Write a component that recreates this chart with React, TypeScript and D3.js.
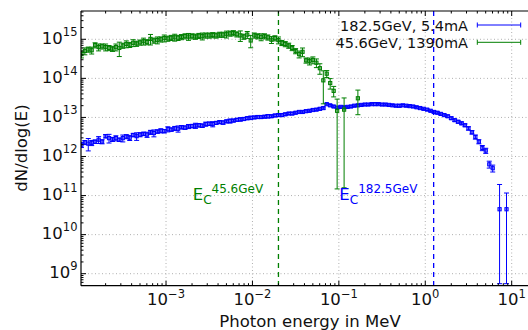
import React from "react";
import * as d3 from "d3";

// ---- data ----
const binMantissa = [1.05, 1.15, 1.26, 1.38, 1.51, 1.66, 1.82, 2.0, 2.19, 2.4, 2.63, 2.88, 3.16, 3.47, 3.8, 4.17, 4.57, 5.01, 5.5, 6.03, 6.61, 7.24, 7.94, 8.71, 9.55];
const binDecades = [1e-4, 1e-3, 1e-2, 1e-1, 1];

// log10(dN/dlog(E)), 182.5 GeV
const blueLog = [
  12.30, 12.36, 12.33, 12.35, 12.38, 12.43, 12.38, 12.52, 12.47, 12.44,
  12.47, 12.43, 12.47, 12.51, 12.48, 12.55, 12.52, 12.56, 12.58, 12.56,
  12.62, 12.60, 12.64, 12.66, 12.65, 12.70, 12.69, 12.72, 12.71, 12.75,
  12.74, 12.77, 12.78, 12.79, 12.80, 12.79, 12.83, 12.84, 12.83, 12.86,
  12.88, 12.87, 12.90, 12.91, 12.92, 12.94, 12.95, 12.96, 12.98, 12.99,
  13.00, 13.01, 13.01, 13.02, 13.03, 13.03, 13.05, 13.06, 13.06, 13.08,
  13.10, 13.10, 13.12, 13.14, 13.14, 13.16, 13.17, 13.19, 13.20, 13.22,
  13.24, 13.34, 13.31, 13.28, 13.25, 13.27, 13.26, 13.27, 13.28, 13.30,
  13.31, 13.32, 13.33, 13.33, 13.34, 13.34, 13.34, 13.33, 13.33, 13.32,
  13.31, 13.30, 13.30, 13.31, 13.30, 13.29, 13.28, 13.26, 13.24, 13.22,
  13.20, 13.17, 13.14, 13.12, 13.09, 13.06, 13.03, 12.98, 12.93, 12.89,
  12.85, 12.80, 12.72, 12.62, 12.50, 12.38, 12.22, 12.15, 11.80, 11.70,
  null, 10.65, null, 10.65,
];
// relative errors, 182.5 GeV
const blueErr = [
  0.15, 0.12, 0.35, 0.15, 0.1, 0.2, 0.12, 0.1, 0.25, 0.12,
  0.15, 0.1, 0.2, 0.12, 0.15, 0.1, 0.22, 0.12, 0.1, 0.15,
  0.12, 0.2, 0.1, 0.12, 0.1, 0.15, 0.1, 0.12, 0.18, 0.1,
  0.1, 0.12, 0.1, 0.15, 0.1, 0.1, 0.12, 0.1, 0.15, 0.08,
  0.08, 0.1, 0.08, 0.12, 0.08, 0.08, 0.1, 0.08, 0.08, 0.1,
  0.07, 0.08, 0.07, 0.07, 0.1, 0.07, 0.07, 0.08, 0.07, 0.07,
  0.06, 0.07, 0.06, 0.06, 0.07, 0.06, 0.06, 0.06, 0.06, 0.06,
  0.06, 0.05, 0.05, 0.05, 0.05, 0.05, 0.05, 0.05, 0.05, 0.05,
  0.05, 0.05, 0.05, 0.05, 0.05, 0.08, 0.05, 0.05, 0.05, 0.05,
  0.05, 0.05, 0.08, 0.05, 0.05, 0.05, 0.05, 0.05, 0.05, 0.05,
  0.05, 0.05, 0.06, 0.06, 0.06, 0.06, 0.07, 0.07, 0.07, 0.08,
  0.08, 0.08, 0.1, 0.1, 0.12, 0.12, 0.15, 0.15, 0.2, 0.2,
  0, 3.3, 0, 1.6,
];

// log10(dN/dlog(E)), 45.6 GeV
const greenLog = [
  14.62, 14.70, 14.74, 14.72, 14.85, 14.80, 14.82, 14.80, 14.78, 14.76,
  14.80, 14.78, 14.84, 14.88, 14.86, 14.91, 14.89, 14.92, 14.95, 14.93,
  15.01, 14.97, 14.98, 15.00, 15.03, 15.02, 15.04, 15.05, 15.04, 15.06,
  15.08, 15.07, 15.08, 15.07, 15.09, 15.08, 15.10, 15.10, 15.11, 15.10,
  15.12, 15.12, 15.13, 15.15, 15.16, 15.13, 15.10, 15.07, 15.12, 14.97,
  15.10, 15.08, 15.06, 15.08, 15.05, 14.99, 15.03, 14.98, 14.91, 14.88,
  14.84, 14.78, 14.70, 14.62, 14.68, 14.46, 14.44, 14.47, 14.40, 14.26,
  13.95, 14.12, 13.88, 13.68, 13.17, null, 13.20, null, null, null,
  13.49,
];
const greenErr = [
  0.2, 0.2, 0.15, 0.2, 0.15, 0.2, 0.15, 0.2, 0.15, 0.15,
  0.2, 0.4, 0.15, 0.2, 0.15, 0.2, 0.15, 0.15, 0.2, 0.15,
  0.3, 0.15, 0.2, 0.15, 0.2, 0.15, 0.15, 0.2, 0.15, 0.15,
  0.15, 0.2, 0.15, 0.15, 0.15, 0.2, 0.15, 0.15, 0.15, 0.15,
  0.15, 0.15, 0.2, 0.15, 0.15, 0.15, 0.3, 0.15, 0.2, 0.35,
  0.15, 0.15, 0.2, 0.15, 0.15, 0.2, 0.15, 0.2, 0.15, 0.15,
  0.15, 0.15, 0.15, 0.2, 0.25, 0.15, 0.2, 0.2, 0.25, 0.3,
  0.75, 0.2, 0.3, 0.3, 0.99, 0, 0.99, 0, 0, 0,
  0.62,
];

const seriesNames = ["182.5GeV, 5.4mA", "45.6GeV, 1390mA"];
const criticalEnergy = [1.25, 0.02]; // MeV
const criticalLabels = ["182.5GeV", "45.6GeV"];
const xTickExp = [-3, -2, -1, 0, 1];
const yTickExp = [9, 10, 11, 12, 13, 14, 15];

const BLUE = "#0000ff";
const GREEN = "#007f00";
const FONT = "DejaVu Sans, sans-serif";

const energies = binDecades.flatMap((d) => binMantissa.map((m) => m * d));

export default function App() {
  const L = 81, R = 539, T = 11, B = 285.7;
  const x = d3.scaleLog().domain([1.038e-4, 20.7]).range([L, R]);
  const y = d3.scaleLog().domain([4.93e8, 5.3e15]).range([B, T]);

  const minorX: number[] = [];
  for (let e = -4; e <= 1; e++) for (let m = 2; m <= 9; m++) {
    const v = m * Math.pow(10, e);
    if (x(v) > L && x(v) < 528) minorX.push(v);
  }
  const minorY: number[] = [];
  for (let e = 8; e <= 15; e++) for (let m = 2; m <= 9; m++) {
    const v = m * Math.pow(10, e);
    if (y(v) < B && y(v) > T) minorY.push(v);
  }

  const renderSeries = (logs: (number | null)[], errs: number[], color: string) =>
    logs.map((lv, i) => {
      if (lv == null) return null;
      const v = Math.pow(10, lv);
      const r = errs[i];
      const cx = x(energies[i]);
      const cy = y(v);
      const hi = y(v * (1 + r));
      const loV = v * (1 - r);
      const lo = loV > 0 ? Math.min(y(loV), B - 2) : B - 2;
      return (
        <g key={i} stroke={color} strokeWidth={1} fill="none">
          <line x1={cx} x2={cx} y1={hi} y2={lo} />
          <line x1={cx - 2.5} x2={cx + 2.5} y1={hi} y2={hi} />
          <line x1={cx - 2.5} x2={cx + 2.5} y1={lo} y2={lo} />
          <rect x={cx - 1.6} y={cy - 1.6} width={3.2} height={3.2} fill={color} fillOpacity={0.35} />
        </g>
      );
    });

  return (
    <svg width={528} height={330} style={{ position: "absolute", left: 0, top: 0, background: "#fff" }} fontFamily={FONT}>
      <defs>
        <clipPath id="plot"><rect x={L} y={T} width={R - L} height={B - T} /></clipPath>
      </defs>
      {/* grid */}
      <g stroke="#b0b0b0" strokeWidth={1} strokeDasharray="1,2.5">
        {xTickExp.map((e) => (
          <line key={e} x1={x(Math.pow(10, e))} x2={x(Math.pow(10, e))} y1={T} y2={B} />
        ))}
        {yTickExp.map((e) => (
          <line key={e} x1={L} x2={R} y1={y(Math.pow(10, e))} y2={y(Math.pow(10, e))} />
        ))}
      </g>
      {/* critical energy lines */}
      <line x1={x(criticalEnergy[1])} x2={x(criticalEnergy[1])} y1={T} y2={B} stroke={GREEN} strokeWidth={1.3} strokeDasharray="5,4" />
      <line x1={x(criticalEnergy[0])} x2={x(criticalEnergy[0])} y1={T} y2={B} stroke={BLUE} strokeWidth={1.3} strokeDasharray="5,4" />
      {/* data */}
      <g clipPath="url(#plot)">
        {renderSeries(blueLog, blueErr, BLUE)}
        {renderSeries(greenLog, greenErr, GREEN)}
      </g>
      {/* frame */}
      <g stroke="#000" strokeWidth={1.2} fill="none">
        <line x1={L} x2={R} y1={B} y2={B} />
        <line x1={L} x2={R} y1={T} y2={T} />
        <line x1={L} x2={L} y1={T} y2={B} />
      </g>
      {/* ticks */}
      <g stroke="#000" strokeWidth={1}>
        {xTickExp.map((e) => {
          const px = x(Math.pow(10, e));
          return (
            <g key={e}>
              <line x1={px} x2={px} y1={B} y2={B - 5} />
              <line x1={px} x2={px} y1={T} y2={T + 5} />
            </g>
          );
        })}
        {minorX.map((v, i) => (
          <g key={i}>
            <line x1={x(v)} x2={x(v)} y1={B} y2={B - 2.5} />
            <line x1={x(v)} x2={x(v)} y1={T} y2={T + 2.5} />
          </g>
        ))}
        {yTickExp.map((e) => (
          <line key={e} x1={L} x2={L + 5} y1={y(Math.pow(10, e))} y2={y(Math.pow(10, e))} />
        ))}
        {minorY.map((v, i) => (
          <line key={i} x1={L} x2={L + 2.5} y1={y(v)} y2={y(v)} />
        ))}
      </g>
      {/* tick labels */}
      <g fill="#111" fontSize={16.5}>
        {xTickExp.map((e) => (
          <text key={e} x={x(Math.pow(10, e))} y={305} textAnchor="middle">
            10<tspan fontSize={11.5} dy={-7.5}>{e < 0 ? "\u2212" + Math.abs(e) : e}</tspan>
          </text>
        ))}
        {yTickExp.map((e) => (
          <text key={e} x={77.5} y={y(Math.pow(10, e)) + 4.3} textAnchor="end">
            10<tspan fontSize={11.5} dy={-8}>{e}</tspan>
          </text>
        ))}
      </g>
      {/* axis labels */}
      <text x={310} y={326.5} textAnchor="middle" fontSize={16.5} fill="#111">Photon energy in MeV</text>
      <text transform="translate(27,148) rotate(-90)" textAnchor="middle" fontSize={16.5} fill="#111">dN/dlog(E)</text>
      {/* critical energy labels */}
      <text x={192.7} y={200} fontSize={16.5} fill={GREEN}>
        E<tspan fontSize={12} dy={3.5}>C</tspan><tspan fontSize={12} dy={-10.5}>{criticalLabels[1]}</tspan>
      </text>
      <text x={339.3} y={200} fontSize={16.5} fill={BLUE}>
        E<tspan fontSize={12} dy={3.5}>C</tspan><tspan fontSize={12} dy={-10.5}>{criticalLabels[0]}</tspan>
      </text>
      {/* legend */}
      {[BLUE, GREEN].map((c, i) => {
        const ly = 25 + i * 17.3;
        return (
          <g key={i}>
            <text x={468} y={ly + 5.5} textAnchor="end" fontSize={14.5} fill="#111">{seriesNames[i]}</text>
            <g stroke={c} strokeWidth={1}>
              <line x1={477.3} x2={520.7} y1={ly} y2={ly} />
              <line x1={477.3} x2={477.3} y1={ly - 2.5} y2={ly + 2.5} />
              <line x1={520.7} x2={520.7} y1={ly - 2.5} y2={ly + 2.5} />
            </g>
          </g>
        );
      })}
    </svg>
  );
}
